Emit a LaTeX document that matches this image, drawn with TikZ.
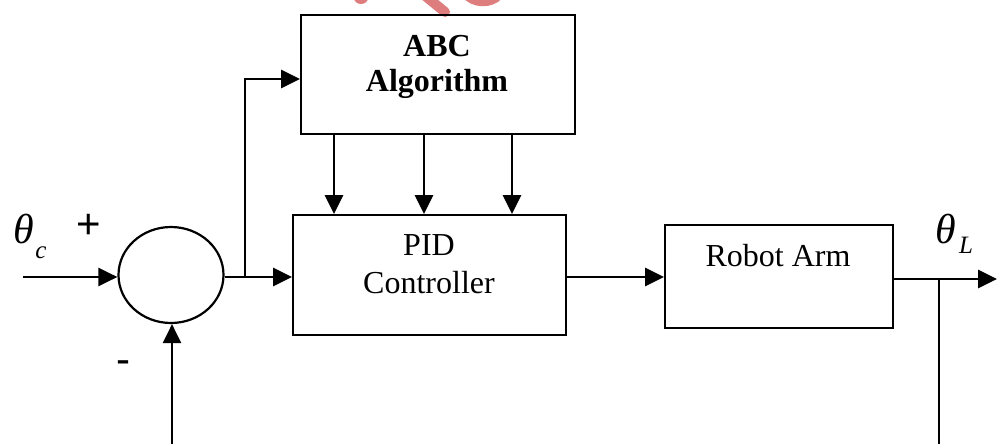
\documentclass[tikz,border=0pt]{standalone}
\usepackage{fontspec}
\setmainfont{Liberation Serif}
\newfontfamily\arialf{Liberation Sans}
\usetikzlibrary{arrows.meta,shapes.geometric}
\definecolor{wmred}{RGB}{222,125,125}
\begin{document}
\begin{tikzpicture}[x=1pt,y=-1pt,
  blockbox/.style={draw,line width=2.2pt},
  conn/.style={line width=2.8pt,-{Triangle[length=19pt,width=18pt]}},
  plain/.style={line width=2.6pt},
  wm/.style={color=wmred,line cap=round}]
\useasboundingbox (0,0) rectangle (997,444);
% watermark fragments
\fill[wmred] (361,-2) ellipse (7pt and 6pt);
\draw[wm,line width=10pt] (418,-10) -- (445,12);
\draw[wm,line width=6pt] (464,-6) .. controls (472,6) and (492,6) .. (500,-4);
% blocks
\node[blockbox,minimum width=274pt,minimum height=119pt,anchor=north west] (abc) at (300,14) {};
\node[font=\fontsize{32}{35}\selectfont\bfseries,align=center] at (437,67) {ABC\\Algorithm};
\node[blockbox,minimum width=273pt,minimum height=120pt,anchor=north west] (pid) at (292,214) {};
\node[font=\fontsize{32}{38}\selectfont,align=center] at (429,264) {PID\\Controller};
\node[blockbox,minimum width=228pt,minimum height=103pt,anchor=north west] (arm) at (664,224) {};
\node[font=\fontsize{32}{36}\selectfont] at (778,256) {Robot Arm};
\node[draw,line width=2.2pt,ellipse,minimum width=105pt,minimum height=96pt,inner sep=0pt] (sum) at (171,275) {};
% coordinates
\coordinate (in) at (23,277);
\coordinate (br) at (245,277);
\coordinate (out) at (997,279);
\coordinate (fb) at (939,279);
\coordinate (fbb) at (939,444);
\coordinate (sb) at (172,444);
% connectors
\draw[conn] (in) -- (sum.west |- in);
\draw[plain] (sum.east |- br) -- (br);
\draw[conn] (br) -- (pid.west |- br);
\draw[conn] (br) |- (abc.west |- 0,79);
\draw[conn] (334,133) -- (334,214);
\draw[conn] (424,133) -- (424,214);
\draw[conn] (512,133) -- (512,214);
\draw[conn] (pid.east |- 0,277) -- (arm.west |- 0,277);
\draw[conn] (arm.east |- out) -- (out);
\draw[plain] (fb) -- (fbb);
\draw[conn] (sb) -- (sb |- sum.south);
% labels
\node[font=\fontsize{42}{44}\selectfont\itshape] at (24,229) {θ};
\node[font=\fontsize{25}{26}\selectfont\itshape] at (41,253) {c};
\node[font=\fontsize{42}{44}\selectfont\itshape] at (946,229) {θ};
\node[font=\fontsize{25}{26}\selectfont\itshape] at (966,245) {L};
\node[font=\arialf\fontsize{42}{44}\selectfont] at (89,226) {+};
\node[font=\arialf\fontsize{42}{44}\selectfont] at (123,367) {-};
\end{tikzpicture}
\end{document}
